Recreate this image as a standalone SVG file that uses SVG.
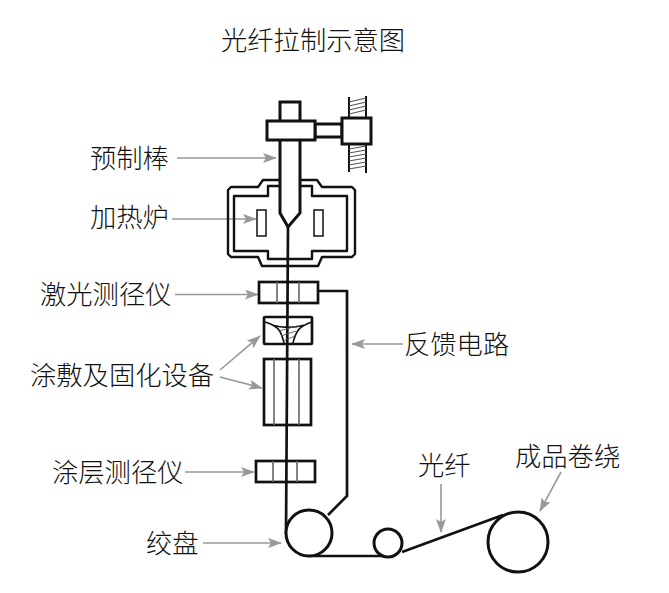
<svg xmlns="http://www.w3.org/2000/svg" width="669" height="593" viewBox="0 0 669 593">
<style>
text{font-family:"Noto Sans CJK SC","Noto Sans",sans-serif;font-size:26.3px;font-weight:300;fill:#111}
.s{fill:#fff;stroke:#111;stroke-width:3}
.n{fill:none;stroke:#111;stroke-width:2.7}
.t{fill:none;stroke:#111;stroke-width:2.4;stroke-linejoin:round}
.i{fill:none;stroke:#666;stroke-width:1.6}
.a{fill:none;stroke:#999;stroke-width:1.6;marker-end:url(#ah)}
.h{stroke:#555;stroke-width:1.2}
</style>
<defs><marker id="ah" markerUnits="userSpaceOnUse" markerWidth="14" markerHeight="10" refX="13" refY="5" orient="auto"><path d="M0 0L14 5L0 10L3 5Z" fill="#999"/></marker></defs>
<rect width="669" height="593" fill="#fff"/>
<text id="title" x="221" y="50">光纤拉制示意图</text>
<g id="connectors">
<path class="n" d="M288 227L286 534"/>
<path class="n" d="M318 291H347V496L328 515"/>
<path class="n" d="M309 556H388M402 552L503 515"/>
<path class="a" d="M177 158H276"/>
<path class="a" d="M172 219H256"/>
<path class="a" d="M175 294.500H258"/>
<path class="a" d="M403 344H352"/>
<path class="a" d="M220 370L260 336"/>
<path class="a" d="M220 377L262 388"/>
<path class="a" d="M185 472H254"/>
<path class="a" d="M203 543H281"/>
<path class="a" d="M441 484V532"/>
<path class="a" d="M561 472L540 511"/>
</g>
<g id="furnace">
<path class="t" d="M231 187H258L263 180H317L322 187H352L355 190V254L352 257H322L318 266H262L258 257H231L228 254V190Z"/>
<path class="t" d="M234 196H268V186H312V196H347V251H312V259H268V251H234Z"/>
<rect class="s" style="stroke-width:1.5" x="257" y="210" width="9" height="26"/>
<rect class="s" style="stroke-width:1.5" x="314" y="210" width="9" height="26"/>
</g>
<g id="preform">
<rect class="s" x="280" y="102" width="20" height="20"/>
<path class="s" d="M280 139V213L288 227L300 213V139Z"/>
<rect class="s" x="315" y="124" width="27" height="13"/>
<rect class="s" x="267" y="121" width="48" height="19"/>
<path class="n" style="stroke-width:2" d="M349 97V117M366 96V117M349 145V172M366 145V173"/>
<path class="h" d="M349 102L366 98M349 106L366 102M349 110L366 106M349 114L366 110M349 149L366 146M349 153L366 150M349 157L366 154M349 161L366 158M349 165L366 162M349 169L366 166"/>
<rect class="s" x="342" y="118" width="29" height="26"/>
</g>
<g id="laser">
<rect class="n" x="259" y="282" width="59" height="21"/>
<path class="i" d="M277 282V303M299 282V303"/>
</g>
<g id="coater">
<rect class="n" x="264" y="317" width="48" height="27" rx="1"/>
<path class="t" style="stroke-width:1.6" d="M265 322C278 326 281 330 284 343M312 322C300 326 296 330 293 343M272 325C282 328 294 328 305 325"/>
<path class="h" style="stroke-width:.9" d="M279 331L297 326M281 336L296 331M283 341L295 336"/>
</g>
<g id="curing">
<rect class="n" x="264" y="359" width="47" height="66"/>
<path class="i" d="M274 359V425M299 359V425"/>
</g>
<g id="coatgauge">
<rect class="n" x="256" y="461" width="59" height="21"/>
<path class="i" d="M273 461V482M297 461V482"/>
</g>
<g id="capstan"><circle class="s" cx="309" cy="533" r="23"/></g>
<g id="guide"><circle class="s" cx="388" cy="543" r="14"/></g>
<g id="reel"><circle class="s" cx="518" cy="542" r="30"/></g>
<text id="l1" x="90" y="167.500">预制棒</text>
<text id="l2" x="90" y="226.500">加热炉</text>
<text id="l3" x="40" y="304">激光测径仪</text>
<text id="l4" x="30" y="384.500">涂敷及固化设备</text>
<text id="l5" x="52" y="481.500">涂层测径仪</text>
<text id="l6" x="146" y="552.500">绞盘</text>
<text id="l7" x="404" y="353.500">反馈电路</text>
<text id="l8" x="418" y="474.500">光纤</text>
<text id="l9" x="515" y="465.500">成品卷绕</text>
</svg>
